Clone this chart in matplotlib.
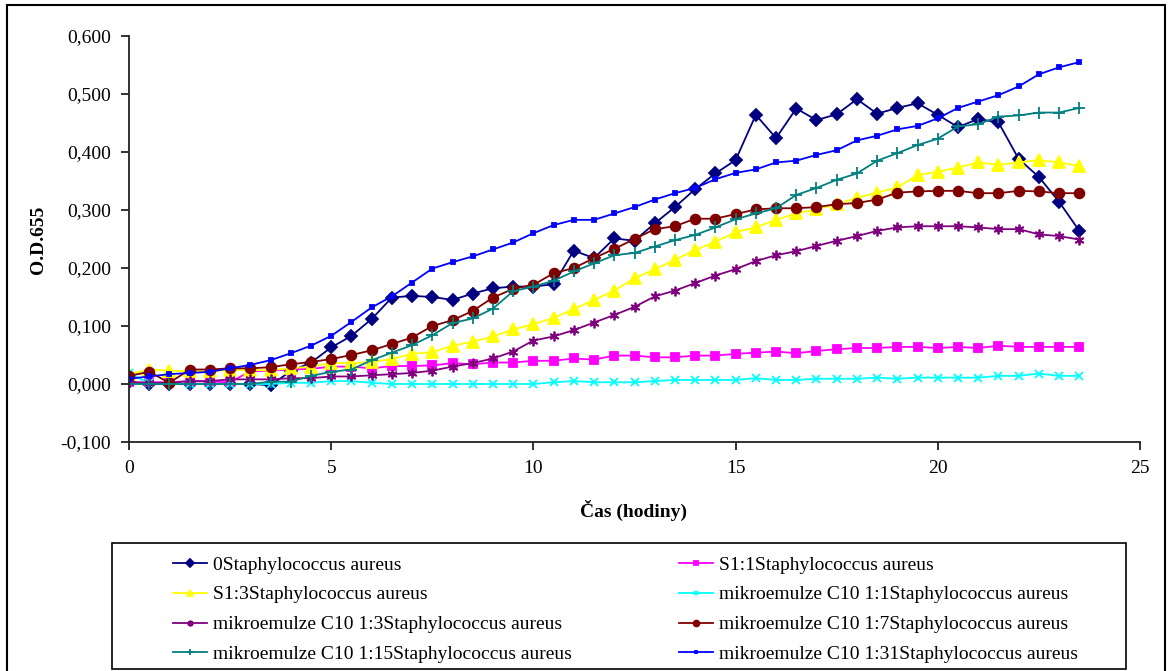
import numpy as np
import matplotlib
matplotlib.use("Agg")
import matplotlib.pyplot as plt
from matplotlib.patches import Rectangle
from matplotlib.ticker import FuncFormatter

hours = [0, 0.5, 1, 1.5, 2, 2.5, 3, 3.5, 4, 4.5, 5, 5.5, 6, 6.5, 7, 7.5,
         8, 8.5, 9, 9.5, 10, 10.5, 11, 11.5, 12, 12.5, 13, 13.5, 14, 14.5, 15, 15.5,
         16, 16.5, 17, 17.5, 18, 18.5, 19, 19.5, 20, 20.5, 21, 21.5, 22, 22.5, 23, 23.5]

s0 = [0.003, 0.000, 0.000, 0.000, 0.000, 0.000, 0.000, -0.002, 0.022, 0.037,
      0.063, 0.083, 0.112, 0.149, 0.152, 0.150, 0.145, 0.156, 0.165, 0.168,
      0.168, 0.172, 0.230, 0.217, 0.251, 0.247, 0.277, 0.305, 0.336, 0.363,
      0.386, 0.464, 0.424, 0.475, 0.455, 0.465, 0.491, 0.466, 0.476, 0.484,
      0.464, 0.443, 0.457, 0.451, 0.388, 0.357, 0.314, 0.264]
s1_1 = [0.003, 0.003, 0.003, 0.005, 0.004, 0.003, 0.022, 0.023, 0.025, 0.026,
        0.030, 0.030, 0.027, 0.031, 0.031, 0.032, 0.036, 0.034, 0.037, 0.037,
        0.040, 0.040, 0.044, 0.042, 0.049, 0.049, 0.046, 0.046, 0.049, 0.049,
        0.052, 0.054, 0.056, 0.053, 0.057, 0.060, 0.062, 0.062, 0.064, 0.064,
        0.062, 0.064, 0.062, 0.066, 0.064, 0.064, 0.064, 0.064]
s1_3 = [0.017, 0.025, 0.023, 0.022, 0.022, 0.024, 0.024, 0.024, 0.027, 0.030,
        0.036, 0.036, 0.038, 0.043, 0.052, 0.055, 0.066, 0.073, 0.082, 0.094,
        0.103, 0.114, 0.129, 0.145, 0.161, 0.182, 0.198, 0.214, 0.231, 0.245,
        0.262, 0.270, 0.283, 0.294, 0.301, 0.310, 0.321, 0.330, 0.339, 0.360,
        0.366, 0.373, 0.382, 0.378, 0.382, 0.386, 0.382, 0.376]
m1_1 = [0.019, 0.001, 0.001, 0.000, 0.000, 0.000, 0.000, 0.000, 0.002, 0.002,
        0.005, 0.005, 0.002, 0.000, 0.000, 0.000, 0.000, 0.000, 0.000, 0.000,
        0.000, 0.003, 0.005, 0.003, 0.003, 0.003, 0.005, 0.007, 0.007, 0.007,
        0.007, 0.010, 0.007, 0.007, 0.009, 0.009, 0.009, 0.011, 0.009, 0.011,
        0.011, 0.011, 0.011, 0.014, 0.014, 0.018, 0.014, 0.014]
m1_3 = [0.003, 0.002, 0.002, 0.005, 0.005, 0.008, 0.008, 0.008, 0.010, 0.010,
        0.013, 0.013, 0.015, 0.017, 0.019, 0.023, 0.030, 0.036, 0.044, 0.056,
        0.075, 0.082, 0.093, 0.106, 0.119, 0.133, 0.151, 0.161, 0.174, 0.187,
        0.198, 0.212, 0.222, 0.229, 0.238, 0.247, 0.255, 0.264, 0.270, 0.272,
        0.272, 0.272, 0.270, 0.267, 0.267, 0.258, 0.255, 0.249]
m1_7 = [0.014, 0.021, 0.002, 0.025, 0.025, 0.027, 0.027, 0.029, 0.034, 0.038,
        0.043, 0.050, 0.058, 0.069, 0.080, 0.100, 0.110, 0.126, 0.149, 0.164,
        0.171, 0.191, 0.200, 0.217, 0.233, 0.250, 0.267, 0.272, 0.285, 0.285,
        0.293, 0.301, 0.303, 0.303, 0.305, 0.310, 0.312, 0.318, 0.330, 0.332,
        0.333, 0.333, 0.329, 0.329, 0.333, 0.332, 0.329, 0.329]
m1_15 = [0.000, 0.000, 0.000, 0.000, 0.000, 0.000, 0.000, 0.004, 0.004, 0.014,
         0.021, 0.025, 0.041, 0.054, 0.067, 0.084, 0.105, 0.113, 0.130, 0.160,
         0.168, 0.178, 0.194, 0.208, 0.222, 0.226, 0.237, 0.248, 0.257, 0.270,
         0.284, 0.294, 0.303, 0.326, 0.338, 0.352, 0.363, 0.385, 0.398, 0.412,
         0.423, 0.444, 0.448, 0.461, 0.463, 0.468, 0.468, 0.476]
m1_31 = [0.009, 0.013, 0.017, 0.019, 0.021, 0.027, 0.033, 0.041, 0.053, 0.066,
         0.083, 0.107, 0.132, 0.151, 0.175, 0.199, 0.210, 0.220, 0.232, 0.244,
         0.260, 0.274, 0.283, 0.283, 0.294, 0.305, 0.318, 0.329, 0.338, 0.353,
         0.364, 0.370, 0.382, 0.385, 0.395, 0.403, 0.420, 0.428, 0.439, 0.445,
         0.458, 0.476, 0.487, 0.498, 0.513, 0.534, 0.546, 0.555]

labels = ["0Staphylococcus aureus", "S1:1Staphylococcus aureus",
          "S1:3Staphylococcus aureus", "mikroemulze C10 1:1Staphylococcus aureus",
          "mikroemulze C10 1:3Staphylococcus aureus", "mikroemulze C10 1:7Staphylococcus aureus",
          "mikroemulze C10 1:15Staphylococcus aureus", "mikroemulze C10 1:31Staphylococcus aureus"]
series = [s0, s1_1, s1_3, m1_1, m1_3, m1_7, m1_15, m1_31]

colors = ["#000080", "#FF00FF", "#FFFF00", "#00FFFF", "#800080", "#800000", "#008080", "#0000FF"]
markers = ["D", "s", "^", "x", (6, 2, 0), "o", "+", "s"]
msizes = [6.5, 6, 8, 6, 7, 7, 8, 3.5]

plt.rcParams["font.family"] = ["Liberation Serif", "DejaVu Serif"]
plt.rcParams["font.size"] = 14

W, H = 1168, 671
fig = plt.figure(figsize=(W / 100, H / 100), dpi=100)
ax = fig.add_axes([129 / W, 1 - 442 / H, (1140 - 129) / W, (442 - 36) / H])

lines = []
for y, c, m, ms, lab in zip(series, colors, markers, msizes, labels):
    ln, = ax.plot(hours, y, color=c, marker=m, markersize=ms, markeredgewidth=1.3,
                  linewidth=1.3, label=lab)
    lines.append(ln)

ax.set_xlim(0, 25)
ax.set_ylim(-0.1, 0.6)
ax.set_xticks([0, 5, 10, 15, 20, 25])
ax.set_yticks(np.arange(-0.1, 0.61, 0.1))
ax.yaxis.set_major_formatter(FuncFormatter(lambda v, p: f"{v:.3f}".replace(".", ",").replace("-0,000", "0,000")))
for s in ["top", "right"]:
    ax.spines[s].set_visible(False)
for s in ["left", "bottom"]:
    ax.spines[s].set_linewidth(1.3)
    ax.spines[s].set_color("#222222")
ax.tick_params(direction="out", length=6, width=1.3, pad=7, labelsize=14, color="#222222")

fig.text(634 / W, 1 - 510 / H, "Čas (hodiny)", ha="center", va="center", fontsize=14, fontweight="bold")
fig.text(39 / W, 1 - 240 / H, "O.D.655", ha="center", va="center", rotation=90, fontsize=14, fontweight="bold")

# legend frame and outer chart frame
fig.add_artist(Rectangle((112 / W, 1 - 669 / H), (1126 - 112) / W, (669 - 543) / H,
                         transform=fig.transFigure, fill=False, edgecolor="black", linewidth=1.2))
fig.add_artist(Rectangle((7 / W, -0.02), (1165 - 7) / W, 1.02 - 5 / H,
                         transform=fig.transFigure, fill=False, edgecolor="black", linewidth=1.5))

left = [lines[i] for i in (0, 2, 4, 6)]
right = [lines[i] for i in (1, 3, 5, 7)]
for hs, x0 in [(left, 173), (right, 679)]:
    fig.legend(hs, [h.get_label() for h in hs], loc="upper left",
               bbox_to_anchor=(x0 / W, 1 - 556 / H), frameon=False, fontsize=14,
               borderpad=0, borderaxespad=0, handlelength=1.75, handletextpad=0.3,
               labelspacing=0.63, markerscale=0.6)

fig.savefig("out.png", dpi=100)
